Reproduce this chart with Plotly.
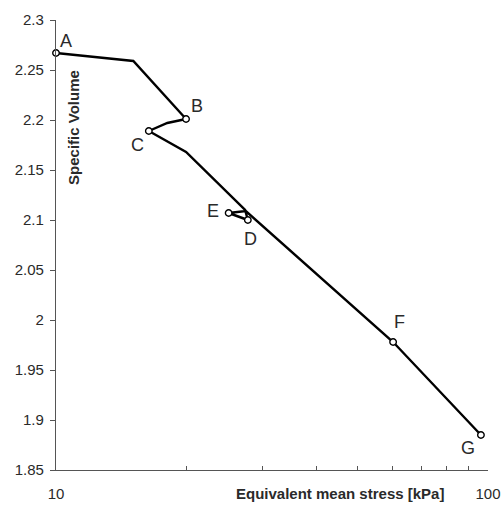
import numpy as np
import plotly.graph_objects as go

# path of the curve (stress in kPa, specific volume)
stress = [10.0, 15.1, 20.0, 18.1, 16.4, 20.0, 27.4, 27.8, 25.1, 27.5, 60.3, 96.3]
volume = [2.267, 2.259, 2.201, 2.197, 2.189, 2.168, 2.110, 2.100, 2.107, 2.109, 1.978, 1.885]

# labelled points
pt_labels = ["A", "B", "C", "D", "E", "F", "G"]
pt_stress = [10.0, 20.0, 16.4, 27.8, 25.1, 60.3, 96.3]
pt_volume = [2.267, 2.201, 2.189, 2.100, 2.107, 1.978, 1.885]
lbl_dx = [10, 11, -11, 3, -16, 6, -13]
lbl_dy = [12, 13, -14, -19, 2, 20, -13]

y_ticks = [1.85, 1.9, 1.95, 2.0, 2.05, 2.1, 2.15, 2.2, 2.25, 2.3]
y_ticktext = ["1.85", "1.9", "1.95", "2", "2.05", "2.1", "2.15", "2.2", "2.25", "2.3"]
x_ticks = [10, 20, 30, 40, 50, 60, 70, 80, 90, 100]
x_ticktext = ["10", "", "", "", "", "", "", "", "", "100"]

FONT = "Liberation Sans, Arial"
TXT = "#2a2a2a"

fig = go.Figure()
fig.add_trace(go.Scatter(x=stress, y=volume, mode="lines",
                         line=dict(color="black", width=2.4), showlegend=False))
fig.add_trace(go.Scatter(x=pt_stress, y=pt_volume, mode="markers",
                         marker=dict(symbol="circle", size=6.5, color="white",
                                     line=dict(color="black", width=1.4)),
                         showlegend=False, cliponaxis=False))

for lab, xs, ys, dx, dy in zip(pt_labels, pt_stress, pt_volume, lbl_dx, lbl_dy):
    fig.add_annotation(x=np.log10(xs), y=ys, text=lab, showarrow=False,
                       xshift=dx, yshift=dy,
                       font=dict(family=FONT, size=18, color=TXT))

fig.add_annotation(xref="paper", yref="paper", x=0.039, y=0.762, text="<b>Specific Volume</b>",
                   textangle=-90, showarrow=False, xanchor="center", yanchor="middle",
                   font=dict(family=FONT, size=15, color=TXT))
fig.add_annotation(xref="paper", yref="paper", x=0.657, y=-0.052, text="<b>Equivalent mean stress [kPa]</b>",
                   showarrow=False, xanchor="center", yanchor="middle",
                   font=dict(family=FONT, size=15, color=TXT))

fig.update_xaxes(type="log", range=[1, 2], tickvals=x_ticks, ticktext=x_ticktext,
                 ticks="inside", ticklen=4, tickcolor="#555", showline=True, linecolor="#555",
                 linewidth=1.3, showgrid=False, zeroline=False, automargin=False,
                 ticklabelstandoff=10,
                 tickfont=dict(family=FONT, size=15, color=TXT))
fig.update_yaxes(range=[1.85, 2.3], tickvals=y_ticks, ticktext=y_ticktext,
                 ticks="outside", ticklen=5, tickcolor="#555", showline=True, linecolor="#555",
                 linewidth=1.3, showgrid=False, zeroline=False, automargin=False,
                 ticklabelstandoff=3,
                 tickfont=dict(family=FONT, size=15, color=TXT))

fig.update_layout(width=502, height=507, margin=dict(l=56, r=14, t=20, b=37),
                  plot_bgcolor="white", paper_bgcolor="white")
fig.write_html("out.html")
